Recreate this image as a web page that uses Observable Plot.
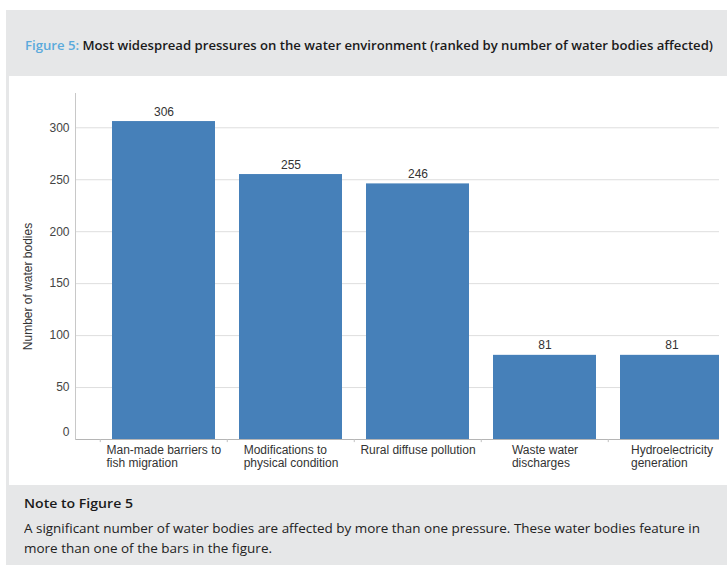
<!DOCTYPE html>
<html>
<head>
<meta charset="utf-8">
<script src="https://cdn.jsdelivr.net/npm/d3@7"></script>
<script src="https://cdn.jsdelivr.net/npm/@observablehq/plot@0.6"></script>
<style>
  html, body { margin: 0; padding: 0; background: #fff; }
  body { width: 727px; height: 567px; position: relative; overflow: hidden; font-family: "Open Sans", "Noto Sans", sans-serif; }
  .gray { position: absolute; background: #e6e7e8; }
  .fit { position: absolute; white-space: nowrap; transform-origin: 0 50%; }
  #title { left: 25px; top: 36px; font-size: 13px; font-weight: 600; color: #1a1a1a; }
  #title .fig { color: #5aaadc; }
  #chart { position: absolute; left: 9px; top: 76px; width: 718px; height: 409px; background: #fff; }
  #noteTitle { left: 18px; top: 9px; font-size: 13px; font-weight: 600; color: #1a1a1a; }
  #note1 { left: 18px; top: 34px; font-size: 13px; color: #222; }
  #note2 { left: 18px; top: 54px; font-size: 13px; color: #222; }
</style>
</head>
<body>
<div class="gray" style="left:6px;top:10px;width:721px;height:66px;"></div>
<div class="fit" id="title"><span class="fig">Figure 5:</span> Most widespread pressures on the water environment (ranked by number of water bodies affected)</div>
<div class="gray" style="left:6px;top:76px;width:3px;height:410px;"></div>
<div id="chart"></div>
<div class="gray" style="left:6px;top:485px;width:721px;height:80px;">
  <div class="fit" id="noteTitle">Note to Figure 5</div>
  <div class="fit" id="note1">A significant number of water bodies are affected by more than one pressure. These water bodies feature in</div>
  <div class="fit" id="note2">more than one of the bars in the figure.</div>
</div>
<script>
// ---- data ----
const categories = [
  "Man-made barriers to\nfish migration",
  "Modifications to\nphysical condition",
  "Rural diffuse pollution",
  "Waste water\ndischarges",
  "Hydroelectricity\ngeneration"
];
const values = [306, 255, 246, 81, 81];
const yTicks = [0, 50, 100, 150, 200, 250, 300];
const yLabel = "Number of water bodies";

const data = categories.map((c, i) => ({category: c, value: values[i]}));

// ---- layout ----
const xRange = [89.75, 727.25];
const step = (xRange[1] - xRange[0]) / categories.length;

const chart = Plot.plot({
  width: 718,
  height: 409,
  marginLeft: 66,
  marginRight: 8,
  marginTop: 17,
  marginBottom: 46,
  style: {fontFamily: "'Liberation Sans', Arial, sans-serif", fontSize: "12px", color: "#333", background: "transparent", overflow: "visible"},
  x: {domain: categories, range: xRange, paddingInner: 0.19, paddingOuter: 0.095, axis: null},
  y: {domain: [0, 333], axis: null},
  marks: [
    Plot.gridY(yTicks.filter(d => d > 0), {stroke: "#dedede", strokeOpacity: 1}),
    Plot.barY(data, {x: "category", y: "value", fill: "#4680b9", clip: "frame"}),
    Plot.ruleY([0], {stroke: "#b5b5b5"}),
    Plot.frame({anchor: "left", stroke: "#c8c8c8"}),
    Plot.ruleX(categories, {x: d => d, dx: -step / 2, y1: 0, y2: -3, stroke: "#c0c0c0"}),
    Plot.axisY(yTicks.filter(d => d > 0), {tickSize: 0, tickPadding: 6, label: null, fill: "#444"}),
    Plot.axisY([0], {tickSize: 0, tickPadding: 6, label: null, fill: "#444", dy: -7}),
    Plot.text(data, {x: "category", y: "value", text: d => String(d.value), dy: -6, lineAnchor: "bottom", fill: "#333"}),
    Plot.text(categories, {x: d => d, frameAnchor: "bottom", lineAnchor: "top", textAnchor: "start", dy: 5, lineHeight: 1.1, fill: "#333", className: "xlab"}),
    Plot.text([yLabel], {frameAnchor: "left", textAnchor: "middle", rotate: -90, dx: -47, dy: 20, fill: "#333"})
  ]
});
document.getElementById("chart").appendChild(chart);

// center each multi-line x label block while keeping its lines left-aligned
chart.querySelectorAll(".xlab text").forEach(t => {
  const w = t.getBBox().width;
  const tr = t.getAttribute("transform") || "";
  t.setAttribute("transform", tr + ` translate(${-w / 2},0)`);
});

// fit text widths to the reference
function fit(id, target) {
  const el = document.getElementById(id);
  const w = el.getBoundingClientRect().width;
  el.style.transform = `scaleX(${target / w})`;
}
fit("title", 688);
fit("noteTitle", 109);
fit("note1", 676);
fit("note2", 248);
</script>
</body>
</html>
